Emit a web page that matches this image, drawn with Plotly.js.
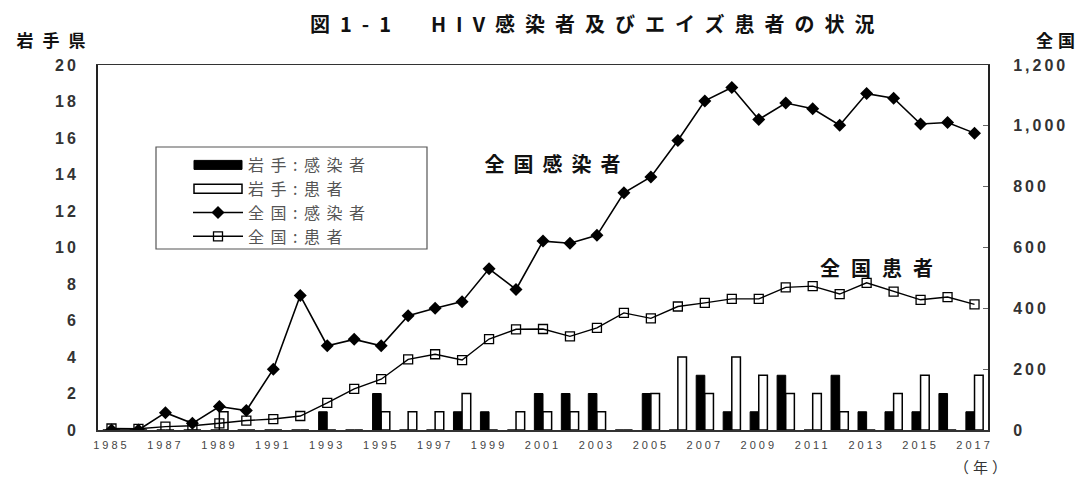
<!DOCTYPE html>
<html>
<head>
<meta charset="utf-8">
<script src="https://cdn.plot.ly/plotly-3.0.1.min.js"></script>
<style>
  body { margin: 0; background: #fff; }
  #chart { width: 1080px; height: 477px; }
  .gtitle { letter-spacing: 10px; }
  .annotation .annotation-text { letter-spacing: 9px; }
  .annotation[data-index="1"] .annotation-text { letter-spacing: 11px; }
  .annotation[data-index="2"] .annotation-text { letter-spacing: 9px; }
  .annotation[data-index="3"] .annotation-text { letter-spacing: 5px; }
  .annotation[data-index="4"] .annotation-text { letter-spacing: 4px; }
  .legendtext { letter-spacing: 6.5px; }
  .xtick text { letter-spacing: 3px; }
  .ytick text, .y2tick text { letter-spacing: 3px; }
</style>
</head>
<body>
<div id="chart"></div>
<script>
// ---- data ----
const years = ['1985','1986','1987','1988','1989','1990','1991','1992','1993','1994','1995',
  '1996','1997','1998','1999','2000','2001','2002','2003','2004','2005','2006',
  '2007','2008','2009','2010','2011','2012','2013','2014','2015','2016','2017'];

// 岩手: 感染者 (left axis)
const iwateInfected = [0,0,0,0,0,0,0,0,1,0,2,0,0,1,1,0,2,2,2,0,2,0,3,1,1,3,0,3,1,1,1,2,1];
// 岩手: 患者 (left axis)
const iwatePatients = [0,0,0,0,1,0,0,0,0,0,1,1,1,2,0,1,1,1,1,0,2,4,2,4,3,2,2,1,0,2,3,0,3];
// 全国: 感染者 (right axis)
const nationInfected = [0,0,57,22,77,64,200,442,277,298,277,376,400,422,530,462,621,614,640,780,
  832,952,1082,1126,1021,1075,1056,1002,1106,1091,1006,1011,976];
// 全国: 患者 (right axis)
const nationPatients = [5,4,11,14,22,31,36,46,89,135,167,232,249,230,299,331,332,308,336,385,
  367,406,418,431,431,469,473,447,484,455,428,437,413];

const xTickLabels = ['1985','1987','1989','1991','1993','1995','1997','1999','2001','2003',
  '2005','2007','2009','2011','2013','2015','2017'];

const seriesNames = ['岩手:感染者','岩手:患者','全国:感染者','全国:患者'];

// ---- plot ----
const JP = '"Noto Sans CJK JP", "Noto Sans", sans-serif';
const AX = '"Liberation Sans", Arial, sans-serif';

const traces = [
  { type:'bar', x:years, y:iwateInfected, name:seriesNames[0], yaxis:'y',
    marker:{ color:'#000', line:{ color:'#000', width:1 } } },
  { type:'bar', x:years, y:iwatePatients, name:seriesNames[1], yaxis:'y',
    marker:{ color:'#fff', line:{ color:'#000', width:1.5 } } },
  { type:'scatter', mode:'lines+markers', x:years, y:nationInfected, name:seriesNames[2], yaxis:'y2',
    line:{ color:'#000', width:1.6 },
    marker:{ symbol:'diamond', size:10, color:'#000' } },
  { type:'scatter', mode:'lines+markers', x:years, y:nationPatients, name:seriesNames[3], yaxis:'y2',
    line:{ color:'#000', width:1.4 },
    marker:{ symbol:'square-open', size:9, color:'#000', line:{ width:1.3 } } }
];

const L = 98, R = 988, T = 65, B = 430;
const W = 1080, H = 477;
const px = v => (v - L) / (R - L);
const py = v => (B - v) / (B - T);

const layout = {
  width: W, height: H,
  margin: { l: L, r: W - R, t: T, b: H - B, pad: 0 },
  paper_bgcolor: '#fff', plot_bgcolor: '#fff',
  font: { family: JP, color: '#000' },
  showlegend: true,
  barmode: 'group', bargap: 0.36, bargroupgap: 0,
  title: { text: '図1-1　HIV感染者及びエイズ患者の状況',
    font: { family: JP, size: 20, color: '#111', weight: 'bold' },
    x: 0.553, xanchor: 'center', y: 1 - 25 / H, yanchor: 'middle' },
  xaxis: {
    type: 'category', range: [-0.5, years.length - 0.5], autorange: false,
    tickmode: 'array', tickvals: xTickLabels, ticktext: xTickLabels,
    showgrid: false, zeroline: false, showline: true, linecolor: '#333', linewidth: 1.5,
    mirror: true, ticks: '', tickfont: { family: AX, size: 11, color: '#444' },
    ticklabelstandoff: 4, tickangle: 0
  },
  // left axis: labels pushed away from the axis by transparent outside ticks
  yaxis: {
    range: [0, 20], dtick: 2, showgrid: false, zeroline: false,
    showline: true, linecolor: '#222', linewidth: 2, ticks: 'outside', ticklen: 14,
    tickcolor: 'rgba(0,0,0,0)', tickfont: { family: AX, size: 16, color: '#333', weight: 'bold' }
  },
  // companion left axis drawing only the short inside tick marks
  yaxis3: {
    overlaying: 'y', side: 'left', range: [0, 20], dtick: 2, showgrid: false, zeroline: false,
    showline: false, showticklabels: false, ticks: 'inside', ticklen: 5, tickcolor: '#666'
  },
  yaxis2: {
    overlaying: 'y', side: 'right', range: [0, 1200], dtick: 200, tickformat: ',d',
    showgrid: false, zeroline: false, showline: true, linecolor: '#222', linewidth: 2,
    ticks: 'inside', ticklen: 5, tickcolor: '#666',
    tickfont: { family: AX, size: 16, color: '#333', weight: 'bold' },
    ticklabelstandoff: 20
  },
  legend: {
    x: px(188), xanchor: 'left', y: py(148), yanchor: 'top',
    bgcolor: 'rgba(255,255,255,0)', borderwidth: 0,
    font: { family: JP, size: 16, color: '#555' },
    itemwidth: 50, tracegroupgap: 0, traceorder: 'normal'
  },
  shapes: [
    { type: 'rect', xref: 'paper', yref: 'paper', x0: px(156), x1: px(427), y0: py(249), y1: py(147),
      line: { color: '#555', width: 1.2 }, fillcolor: 'rgba(0,0,0,0)', layer: 'above' }
  ],
  annotations: [
    { text: '全国感染者', xref: 'paper', yref: 'paper', x: px(557), y: py(163),
      xanchor: 'center', yanchor: 'middle',
      showarrow: false, font: { family: JP, size: 20, color: '#111', weight: 'bold' } },
    { text: '全国患者', xref: 'paper', yref: 'paper', x: px(882), y: py(267),
      xanchor: 'center', yanchor: 'middle',
      showarrow: false, font: { family: JP, size: 20, color: '#111', weight: 'bold' } },
    { text: '岩手県', xref: 'paper', yref: 'paper', x: px(55), y: py(39),
      xanchor: 'center', yanchor: 'middle',
      showarrow: false, font: { family: JP, size: 17, color: '#111', weight: 'bold' } },
    { text: '全国', xref: 'paper', yref: 'paper', x: px(1058), y: py(40),
      xanchor: 'center', yanchor: 'middle',
      showarrow: false, font: { family: JP, size: 17, color: '#111', weight: 'bold' } },
    { text: '（年）', xref: 'paper', yref: 'paper', x: px(982), y: py(467),
      xanchor: 'center', yanchor: 'middle',
      showarrow: false, font: { family: JP, size: 15, color: '#333' } }
  ]
};

function tweak() {
  // wide legend swatches for the two bar series
  const items = document.querySelectorAll('#chart .legend .traces');
  items.forEach((g, i) => {
    if (i > 1) return;
    g.querySelectorAll('.legendpoints path').forEach(p => {
      p.setAttribute('d', 'M-24,4.5H24V-4.5H-24Z');
      p.setAttribute('transform', 'translate(30,0)');
    });
  });
}

const gd = document.getElementById('chart');
Plotly.newPlot(gd, traces, layout, { displayModeBar: false, staticPlot: true }).then(() => {
  tweak();
  gd.on('plotly_afterplot', tweak);
});
</script>
</body>
</html>
